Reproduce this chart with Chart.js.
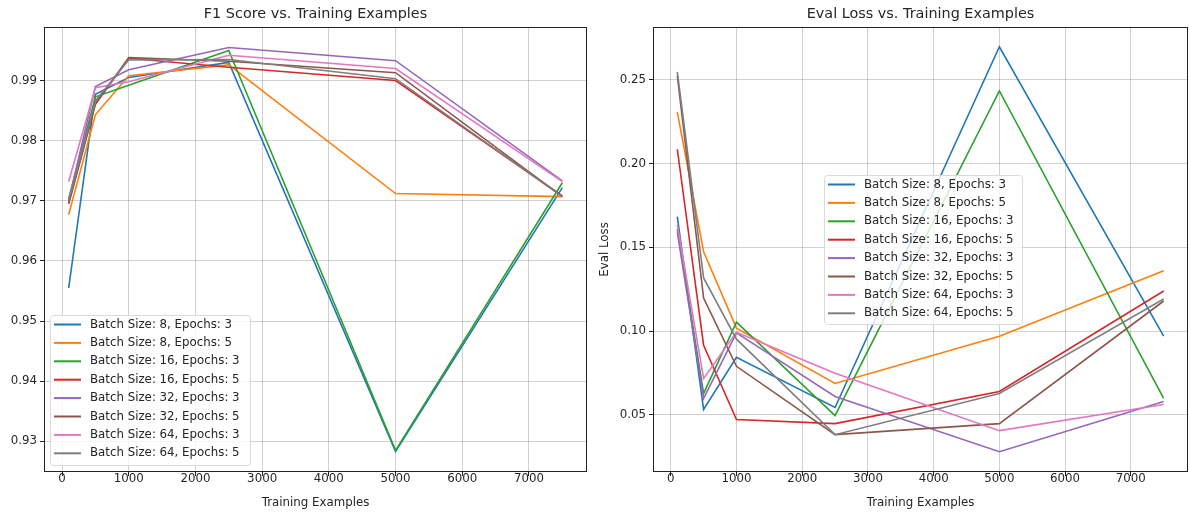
<!DOCTYPE html>
<html>
<head>
<meta charset="utf-8">
<script src="https://cdn.jsdelivr.net/npm/chart.js@4"></script>
<style>
  body { margin: 0; background: #fff; }
  #wrap { position: relative; width: 1190px; height: 515px; }
  canvas { position: absolute; top: 0; }
  #f1Chart { left: 0; }
  #lossChart { left: 595px; }
</style>
</head>
<body>
<div id="wrap">
  <canvas id="f1Chart" width="595" height="515"></canvas>
  <canvas id="lossChart" width="595" height="515"></canvas>
</div>
<script>
// training set sizes (x axis)
const trainingSizes = [100, 500, 1000, 2500, 5000, 7500];

const runLabels = [
    'Batch Size: 8, Epochs: 3',
    'Batch Size: 8, Epochs: 5',
    'Batch Size: 16, Epochs: 3',
    'Batch Size: 16, Epochs: 5',
    'Batch Size: 32, Epochs: 3',
    'Batch Size: 32, Epochs: 5',
    'Batch Size: 64, Epochs: 3',
    'Batch Size: 64, Epochs: 5'
];
const runColors = ['#1f77b4', '#ff7f0e', '#2ca02c', '#d62728', '#9467bd', '#8c564b', '#e377c2', '#7f7f7f'];

// F1 score per run
const f1_b8_e3 = [0.9555, 0.9877, 0.9905, 0.9930, 0.9283, 0.9722];
const f1_b8_e5 = [0.9677, 0.9843, 0.9908, 0.9926, 0.9712, 0.9707];
const f1_b16_e3 = [0.9703, 0.9873, 0.9892, 0.9950, 0.9285, 0.9730];
const f1_b16_e5 = [0.9696, 0.9862, 0.9937, 0.9922, 0.9900, 0.9708];
const f1_b32_e3 = [0.9700, 0.9890, 0.9918, 0.9955, 0.9933, 0.9733];
const f1_b32_e5 = [0.9695, 0.9860, 0.9938, 0.9932, 0.9913, 0.9707];
const f1_b64_e3 = [0.9732, 0.9888, 0.9898, 0.9942, 0.9920, 0.9732];
const f1_b64_e5 = [0.9700, 0.9866, 0.9934, 0.9935, 0.9903, 0.9707];

// eval loss per run
const loss_b8_e3 = [0.1684, 0.0532, 0.0844, 0.0544, 0.2698, 0.0970];
const loss_b8_e5 = [0.2308, 0.1474, 0.1018, 0.0688, 0.0970, 0.1360];
const loss_b16_e3 = [0.1610, 0.0628, 0.1054, 0.0496, 0.2434, 0.0598];
const loss_b16_e5 = [0.2086, 0.0916, 0.0472, 0.0448, 0.0640, 0.1240];
const loss_b32_e3 = [0.1590, 0.0598, 0.0990, 0.0610, 0.0280, 0.0580];
const loss_b32_e5 = [0.2524, 0.1198, 0.0790, 0.0382, 0.0448, 0.1180];
const loss_b64_e3 = [0.1636, 0.0718, 0.0994, 0.0748, 0.0406, 0.0562];
const loss_b64_e5 = [0.2548, 0.1318, 0.0952, 0.0382, 0.0628, 0.1192];

// tick labels
const xTicks = [0, 1000, 2000, 3000, 4000, 5000, 6000, 7000];
const f1Ticks = [0.93, 0.94, 0.95, 0.96, 0.97, 0.98, 0.99];
const lossTicks = [0.05, 0.10, 0.15, 0.20, 0.25];

const f1Series = [f1_b8_e3, f1_b8_e5, f1_b16_e3, f1_b16_e5, f1_b32_e3, f1_b32_e5, f1_b64_e3, f1_b64_e5];
const lossSeries = [loss_b8_e3, loss_b8_e5, loss_b16_e3, loss_b16_e5, loss_b32_e3, loss_b32_e5, loss_b64_e3, loss_b64_e5];

const FONT = "'DejaVu Sans', sans-serif";
const TEXT = '#262626';
const TICK_SIZE = 11.8;

function makeDatasets(series) {
    return series.map((vals, i) => ({
        label: runLabels[i],
        data: trainingSizes.map((x, j) => ({ x: x, y: vals[j] })),
        borderColor: runColors[i],
        backgroundColor: runColors[i],
        borderWidth: 1.6,
        pointRadius: 0,
        tension: 0,
        order: series.length - i // later runs drawn on top, like matplotlib
    }));
}

// frame around the plot area (matplotlib spines) + title centred on the axes
const frame = {
    id: 'frame',
    afterDatasetsDraw(chart, args, opts) {
        const { ctx, chartArea: a } = chart;
        ctx.save();
        ctx.strokeStyle = '#222';
        ctx.lineWidth = 1;
        ctx.strokeRect(Math.round(a.left) + 0.5, Math.round(a.top) + 0.5,
            Math.round(a.right - a.left) - 1, Math.round(a.bottom - a.top) - 1);
        ctx.font = '14.4px ' + FONT;
        ctx.fillStyle = TEXT;
        ctx.textAlign = 'center';
        ctx.textBaseline = 'middle';
        ctx.fillText(opts.title, (a.left + a.right) / 2, 14);
        ctx.restore();
    }
};

// legend box inside the axes
const boxLegend = {
    id: 'boxLegend',
    afterDraw(chart, args, opts) {
        const ctx = chart.ctx;
        ctx.save();
        ctx.beginPath();
        ctx.roundRect(opts.x + 0.5, opts.y + 0.5, opts.w, opts.h, 3);
        ctx.fillStyle = 'rgba(255,255,255,0.8)';
        ctx.fill();
        ctx.strokeStyle = '#dadada';
        ctx.lineWidth = 1;
        ctx.stroke();
        ctx.font = TICK_SIZE + 'px ' + FONT;
        ctx.textBaseline = 'middle';
        ctx.fillStyle = TEXT;
        chart.data.datasets.forEach((ds, i) => {
            const y = opts.y + 9.5 + i * 18.4;
            ctx.beginPath();
            ctx.moveTo(opts.x + 4, y);
            ctx.lineTo(opts.x + 31, y);
            ctx.strokeStyle = ds.borderColor;
            ctx.lineWidth = 2;
            ctx.stroke();
            ctx.fillText(ds.label, opts.x + 40, y);
        });
        ctx.restore();
    }
};

function makeChart(id, series, cfg) {
    const ctx = document.getElementById(id).getContext('2d');
    return new Chart(ctx, {
        type: 'line',
        data: { datasets: makeDatasets(series) },
        plugins: [frame, boxLegend],
        options: {
            responsive: false,
            animation: false,
            layout: { padding: { left: 0, right: cfg.padRight, top: 27, bottom: 0 } },
            plugins: {
                legend: { display: false },
                tooltip: { enabled: false },
                title: { display: false },
                frame: { title: cfg.title },
                boxLegend: cfg.legend
            },
            scales: {
                x: {
                    type: 'linear',
                    min: -270,
                    max: 7870,
                    afterBuildTicks: s => { s.ticks = xTicks.map(v => ({ value: v })); },
                    afterFit: s => { s.height = 43; },
                    ticks: {
                        color: TEXT,
                        font: { family: FONT, size: TICK_SIZE },
                        padding: -4,
                        maxRotation: 0,
                        callback: v => String(v)
                    },
                    grid: { color: 'rgba(0,0,0,0.18)', tickColor: '#222', tickLength: 4 },
                    border: { display: false },
                    title: {
                        display: true,
                        text: 'Training Examples',
                        color: TEXT,
                        font: { family: FONT, size: TICK_SIZE },
                        padding: { top: 0, bottom: 5 }
                    }
                },
                y: {
                    type: 'linear',
                    min: cfg.yMin,
                    max: cfg.yMax,
                    afterBuildTicks: s => { s.ticks = cfg.yTicks.map(v => ({ value: v })); },
                    afterFit: s => { s.width = cfg.yWidth; },
                    ticks: {
                        color: TEXT,
                        font: { family: FONT, size: TICK_SIZE },
                        padding: 3,
                        callback: v => v.toFixed(2)
                    },
                    grid: { color: 'rgba(0,0,0,0.18)', tickColor: '#222', tickLength: 4 },
                    border: { display: false },
                    title: {
                        display: !!cfg.yTitle,
                        text: cfg.yTitle || '',
                        color: TEXT,
                        font: { family: FONT, size: TICK_SIZE },
                        padding: { top: 3, bottom: 0 }
                    }
                }
            }
        }
    });
}

makeChart('f1Chart', f1Series, {
    title: 'F1 Score vs. Training Examples',
    yMin: 0.9249, yMax: 0.9989, yTicks: f1Ticks, yWidth: 44, padRight: 8,
    legend: { x: 50, y: 315, w: 200, h: 150 }
});

makeChart('lossChart', lossSeries, {
    title: 'Eval Loss vs. Training Examples',
    yMin: 0.0159, yMax: 0.2816, yTicks: lossTicks, yWidth: 58, padRight: 2,
    yTitle: 'Eval Loss',
    legend: { x: 229, y: 175, w: 198, h: 149 }
});
</script>
</body>
</html>
